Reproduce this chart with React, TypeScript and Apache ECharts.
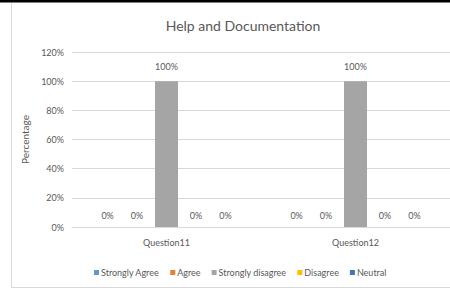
import React, { useEffect, useRef } from "react";
import * as echarts from "echarts";

const categories = ["Question11", "Question12"];
const seriesNames = ["Strongly Agree", "Agree", "Strongly disagree", "Disagree", "Neutral"];
const seriesColors = ["#5B9BD5", "#ED7D31", "#A5A5A5", "#FFC000", "#4472C4"];
const stronglyAgree = [0, 0];
const agree = [0, 0];
const stronglyDisagree = [100, 100];
const disagree = [0, 0];
const neutral = [0, 0];
const seriesValues = [stronglyAgree, agree, stronglyDisagree, disagree, neutral];
const yTicks = { min: 0, max: 120, interval: 20 };

const FONT = "Lato, 'Open Sans', sans-serif";
const TXT = "#595959";

export default function App() {
  const ref = useRef<HTMLDivElement>(null);
  useEffect(() => {
    if (!ref.current) return;
    const chart = echarts.init(ref.current, undefined, { renderer: "svg" });
    chart.setOption({
      animation: false,
      backgroundColor: "#ffffff",
      textStyle: { fontFamily: FONT },
      title: {
        text: "Help and Documentation",
        left: 238,
        textAlign: "center",
        top: 13,
        textStyle: { fontSize: 14, fontWeight: "normal", color: TXT, fontFamily: FONT },
      },
      legend: {
        data: seriesNames,
        left: 89,
        top: 263,
        itemWidth: 5,
        itemHeight: 5,
        itemGap: 11,
        icon: "rect",
        textStyle: { fontSize: 9, color: TXT, fontFamily: FONT, padding: [0, 0, 0, -3] },
      },
      grid: { left: 72, right: -4, top: 52, bottom: 76 },
      xAxis: {
        type: "category",
        data: categories,
        axisLine: { lineStyle: { color: "#d9d9d9" } },
        axisTick: { show: false },
        axisLabel: { color: TXT, fontSize: 9, margin: 11, fontFamily: FONT },
      },
      yAxis: {
        type: "value",
        min: yTicks.min,
        max: yTicks.max,
        interval: yTicks.interval,
        name: "Percentage",
        nameLocation: "middle",
        nameRotate: 90,
        nameGap: 28,
        nameTextStyle: { color: TXT, fontSize: 10, fontFamily: FONT },
        axisLine: { show: false },
        axisTick: { show: false },
        axisLabel: { color: TXT, fontSize: 9, formatter: "{value}%", margin: 8, fontFamily: FONT },
        splitLine: { lineStyle: { color: "#d9d9d9" } },
      },
      series: seriesNames.map((name, i) => ({
        name,
        type: "bar",
        data: seriesValues[i],
        barWidth: 23,
        barGap: "28%",
        itemStyle: { color: seriesColors[i] },
        label: {
          show: true,
          position: "top",
          distance: i === 2 ? 10 : 7,
          formatter: "{c}%",
          color: TXT,
          fontSize: 9,
          fontFamily: FONT,
        },
      })),
      graphic: [
        { type: "rect", shape: { x: 0, y: 0, width: 450, height: 2.5 }, style: { fill: "#000" } },
        { type: "line", shape: { x1: 11.5, y1: 3, x2: 11.5, y2: 287 }, style: { stroke: "#d9d9d9", lineWidth: 1 } },
        { type: "line", shape: { x1: 11, y1: 287.5, x2: 450, y2: 287.5 }, style: { stroke: "#d9d9d9", lineWidth: 1 } },
      ],
    });
    return () => chart.dispose();
  }, []);
  return (
    <div
      ref={ref}
      style={{ position: "fixed", left: 0, top: 0, width: 450, height: 303 }}
    />
  );
}
